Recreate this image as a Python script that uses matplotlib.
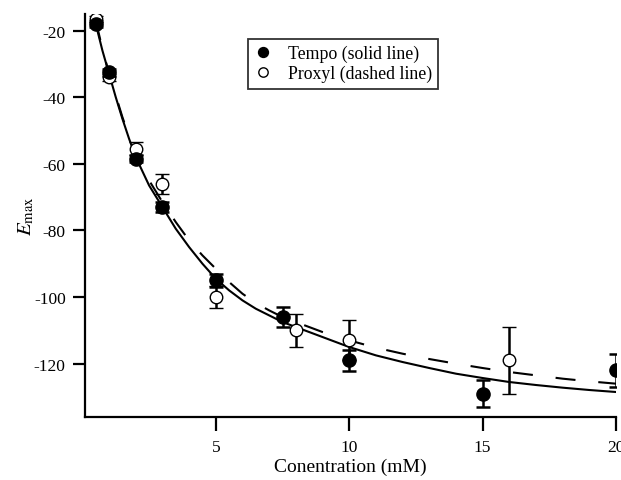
# Emax vs concentration, Tempo and Proxyl

import matplotlib
matplotlib.use('Agg')
import matplotlib.pyplot as plt

plt.rcParams['font.family'] = 'Liberation Serif'
plt.rcParams['mathtext.fontset'] = 'stix'
plt.rcParams['axes.unicode_minus'] = False

# measured points
tempo_x = [0.5, 1, 2, 3, 5, 7.5, 10, 15, 20]
tempo_y = [-18, -32.5, -58.5, -73, -95, -106, -119, -129, -122]
tempo_err = [1, 1, 1, 1.5, 2, 3, 3.2, 4, 5]

proxyl_x = [0.5, 1, 2, 3, 5, 8, 10, 16]
proxyl_y = [-16.5, -34, -55.5, -66, -100, -110, -113, -119]
proxyl_err = [1, 1, 2, 3, 3.3, 5, 6, 10]

# fitted curves
fit_x = [0.5, 0.75, 1, 1.25, 1.5, 1.75, 2, 2.5, 3, 3.5, 4, 4.5, 5, 5.5, 6, 6.5,
         7, 7.5, 8, 9, 10, 11, 12, 13, 14, 15, 16, 17, 18, 19, 20]
tempo_fit = [-18, -26, -33, -40, -46.5, -52.5, -58, -66.5, -73, -79.5, -85,
             -90, -94.5, -98, -101, -103.5, -105.5, -107.5, -109, -112, -115,
             -117.5, -119.5, -121.3, -123, -124.3, -125.5, -126.4, -127.2,
             -127.9, -128.5]
proxyl_fit = [-17, -25.5, -33, -39.5, -46, -51.8, -57, -65, -71.5, -77.5, -83,
              -87.5, -91.5, -95.5, -99, -101.8, -104, -106, -107.5, -110.5,
              -113, -115.2, -117, -118.6, -120, -121.3, -122.5, -123.5, -124.5,
              -125.3, -126]

fig = plt.figure(figsize=(6.21, 4.81), dpi=100)
ax = fig.add_axes([0.137, 0.131, 0.855, 0.838])

ax.plot(fit_x, proxyl_fit, color='black', lw=1.5, dashes=(9.6, 11))
ax.plot(fit_x, tempo_fit, color='black', lw=1.5)

ax.errorbar(proxyl_x, proxyl_y, yerr=proxyl_err, fmt='o', ms=9,
            mfc='white', mec='black', mew=1, ecolor='black', elinewidth=1.8,
            capsize=5, capthick=1.8, label='Proxyl (dashed line)', zorder=3)
ax.errorbar(tempo_x, tempo_y, yerr=tempo_err, fmt='o', ms=9.5,
            mfc='black', mec='black', ecolor='black', elinewidth=1.8,
            capsize=5, capthick=1.8, label='Tempo (solid line)', zorder=4)

ax.set_xlim(0.1, 20)
ax.set_ylim(-136, -15)
ax.set_xticks([5, 10, 15, 20])
ax.set_yticks([-120, -100, -80, -60, -40, -20])

for s in ['top', 'right']:
    ax.spines[s].set_visible(False)
for s in ['left', 'bottom']:
    ax.spines[s].set_linewidth(1.6)
ax.tick_params(direction='out', width=1.6, length=9, labelsize=12.5, pad=5)
ax.tick_params(axis='x', length=10, pad=6)

ax.set_xlabel('Conentration (mM)', fontsize=14, labelpad=2)
ax.set_ylabel(r'$E_{\mathrm{max}}$', fontsize=15, labelpad=-2)

h, l = ax.get_legend_handles_labels()
leg = ax.legend([h[1][0], h[0][0]], [l[1], l[0]], loc='upper left',
                bbox_to_anchor=(0.399, 0.917), bbox_transform=fig.transFigure,
                fancybox=False, edgecolor='black', fontsize=12.8,
                handlelength=1.0, handletextpad=0.9, borderpad=0.35,
                labelspacing=0.15, markerscale=0.75, borderaxespad=0)
leg.get_frame().set_linewidth(1.3)

fig.savefig('out.png', dpi=100)
